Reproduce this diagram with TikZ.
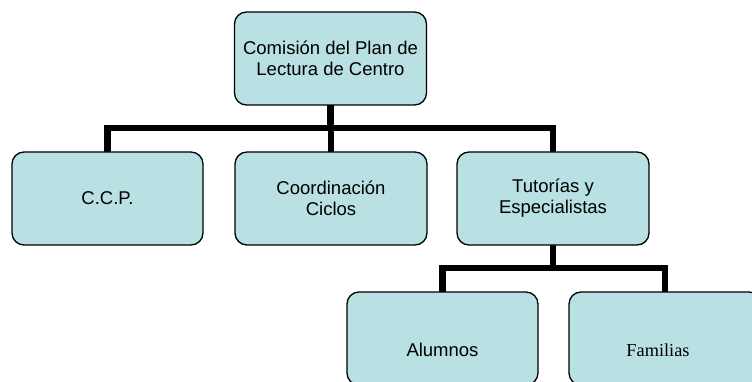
\documentclass[tikz,border=0pt]{standalone}
\usepackage{fontspec}
\setmainfont{Liberation Sans}
\newfontfamily\serifface{Liberation Serif}
\usetikzlibrary{backgrounds}
\definecolor{boxfill}{RGB}{185,224,227}
\begin{document}
\begin{tikzpicture}[x=1pt,y=-1pt,
  orgbox/.style={draw=black, line width=1.3pt, fill=boxfill, rounded corners=12pt,
    minimum width=192pt, minimum height=93pt, inner sep=0pt, align=center,
    font=\fontsize{18.5}{21}\selectfont},
  conn/.style={line width=6.5pt, line join=miter, line cap=rect}]
\useasboundingbox (0,0) rectangle (752,382);
\clip (0,0) rectangle (752,382);
\coordinate (bar) at (0,128);
\coordinate (barlow) at (0,268);
\node[orgbox] (top) at (330.5,58.5) {Comisión del Plan de\\Lectura de Centro};
\node[orgbox, minimum width=191pt] (ccp) at (107.5,198.5) {C.C.P.};
\node[orgbox] (coord) at (331,198.5) {Coordinación\\Ciclos};
\node[orgbox] (tut) at (553,198.5) {Tutorías y\\Especialistas};
\node[orgbox, minimum width=191pt] (alum) at (442.5,338.5) {};
\node[orgbox] (fam) at (665,338.5) {};
\node[font=\fontsize{18.5}{21}\selectfont, inner sep=0pt] (alumtext) at (442.5,350) {Alumnos};
\node[font=\serifface\fontsize{18.3}{21}\selectfont, inner sep=0pt] (famtext) at (658,350) {Familias};
\begin{scope}[on background layer]
\draw[conn] (top.south) -- (top.south |- bar);
\draw[conn] (ccp.north) -- (ccp.north |- bar) -- (tut.north |- bar) -- (tut.north);
\draw[conn] (coord.north) -- (coord.north |- bar);
\draw[conn] (tut.south) -- (tut.south |- barlow);
\draw[conn] (alum.north) -- (alum.north |- barlow) -- (fam.north |- barlow) -- (fam.north);
\end{scope}
\end{tikzpicture}
\end{document}
